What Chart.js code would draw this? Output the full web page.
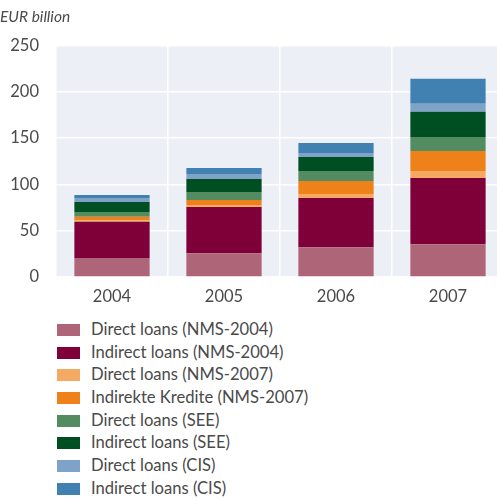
<!DOCTYPE html>
<html>
<head>
<meta charset="utf-8">
<script src="https://cdn.jsdelivr.net/npm/chart.js@4.4.1/dist/chart.umd.min.js"></script>
<style>
  html, body { margin: 0; padding: 0; background: #fff; overflow: hidden; }
  #wrap { width: 497px; height: 499px; overflow: hidden; position: relative; }
  #legend { position: absolute; left: 57px; top: 318px; font-family: Lato, "Open Sans", sans-serif; font-size: 16.6px; color: #4a4a4a; }
  #legend div { height: 22.7px; line-height: 22.7px; white-space: nowrap; }
  #legend span { display: inline-block; width: 23px; height: 12px; margin-right: 11px; vertical-align: -1px; }
</style>
</head>
<body>
<div id="wrap">
  <canvas id="loansChart" width="504" height="312"></canvas>
  <div id="legend"></div>
</div>
<script>
const years = ['2004', '2005', '2006', '2007'];
const yTicks = [0, 50, 100, 150, 200, 250];

const directNms2004   = [20.6, 25.7, 32.2, 35.4];
const indirectNms2004 = [39.0, 49.8, 53.1, 71.5];
const directNms2007   = [1.5, 2.2, 4.3, 7.6];
const indirectNms2007 = [3.9, 5.4, 14.1, 21.7];
const directSee       = [5.1, 8.7, 10.8, 15.1];
const indirectSee     = [10.8, 14.0, 15.2, 27.1];
const directCis       = [4.4, 5.5, 4.3, 8.7];
const indirectCis     = [3.2, 6.5, 10.9, 27.1];

const series = [
  { label: 'Direct loans (NMS-2004)', data: directNms2004, color: '#AE6577' },
  { label: 'Indirect loans (NMS-2004)', data: indirectNms2004, color: '#7F0038' },
  { label: 'Direct loans (NMS-2007)', data: directNms2007, color: '#F4AA62' },
  { label: 'Indirekte Kredite (NMS-2007)', data: indirectNms2007, color: '#EE8119' },
  { label: 'Direct loans (SEE)', data: directSee, color: '#528C60' },
  { label: 'Indirect loans (SEE)', data: indirectSee, color: '#004F22' },
  { label: 'Direct loans (CIS)', data: directCis, color: '#7FA3C8' },
  { label: 'Indirect loans (CIS)', data: indirectCis, color: '#4081B2' }
];

// light panel behind the plot
const plotBackground = {
  id: 'plotBackground',
  beforeDraw(chart) {
    const { ctx, chartArea: a } = chart;
    ctx.save();
    ctx.fillStyle = '#ECEFF6';
    ctx.fillRect(a.left, a.top, a.right - a.left, a.bottom - a.top);
    ctx.restore();
  }
};

const tickFont = { family: 'Lato, "Open Sans", sans-serif', size: 16.5 };

new Chart(document.getElementById('loansChart'), {
  type: 'bar',
  data: {
    labels: years,
    datasets: series.map(s => ({
      label: s.label,
      data: s.data,
      backgroundColor: s.color,
      barPercentage: 0.672,
      categoryPercentage: 1
    }))
  },
  options: {
    responsive: false,
    animation: false,
    layout: { padding: 0 },
    plugins: {
      legend: { display: false },
      tooltip: { enabled: false },
      title: {
        display: true,
        text: 'EUR billion',
        align: 'start',
        color: '#4a4a4a',
        font: { family: 'Lato, "Open Sans", sans-serif', size: 15.5, style: 'italic', weight: 'normal' },
        padding: { top: 8, bottom: 19 }
      }
    },
    scales: {
      x: {
        stacked: true,
        grid: { color: '#fff', lineWidth: 1.5, drawTicks: false },
        border: { display: false },
        ticks: { color: '#4a4a4a', font: tickFont, padding: 10 },
        afterFit(scale) { scale.height = 35; }
      },
      y: {
        stacked: true,
        min: 0,
        max: 250,
        afterBuildTicks(scale) { scale.ticks = yTicks.map(v => ({ value: v })); },
        grid: { color: '#fff', lineWidth: 1.5, drawTicks: false },
        border: { display: false },
        ticks: { color: '#4a4a4a', font: tickFont, padding: 17 },
        afterFit(scale) { scale.width = 56; }
      }
    }
  },
  plugins: [plotBackground]
});

const legend = document.getElementById('legend');
series.forEach(s => {
  const row = document.createElement('div');
  row.innerHTML = '<span style="background:' + s.color + '"></span>' + s.label;
  legend.appendChild(row);
});
</script>
</body>
</html>
